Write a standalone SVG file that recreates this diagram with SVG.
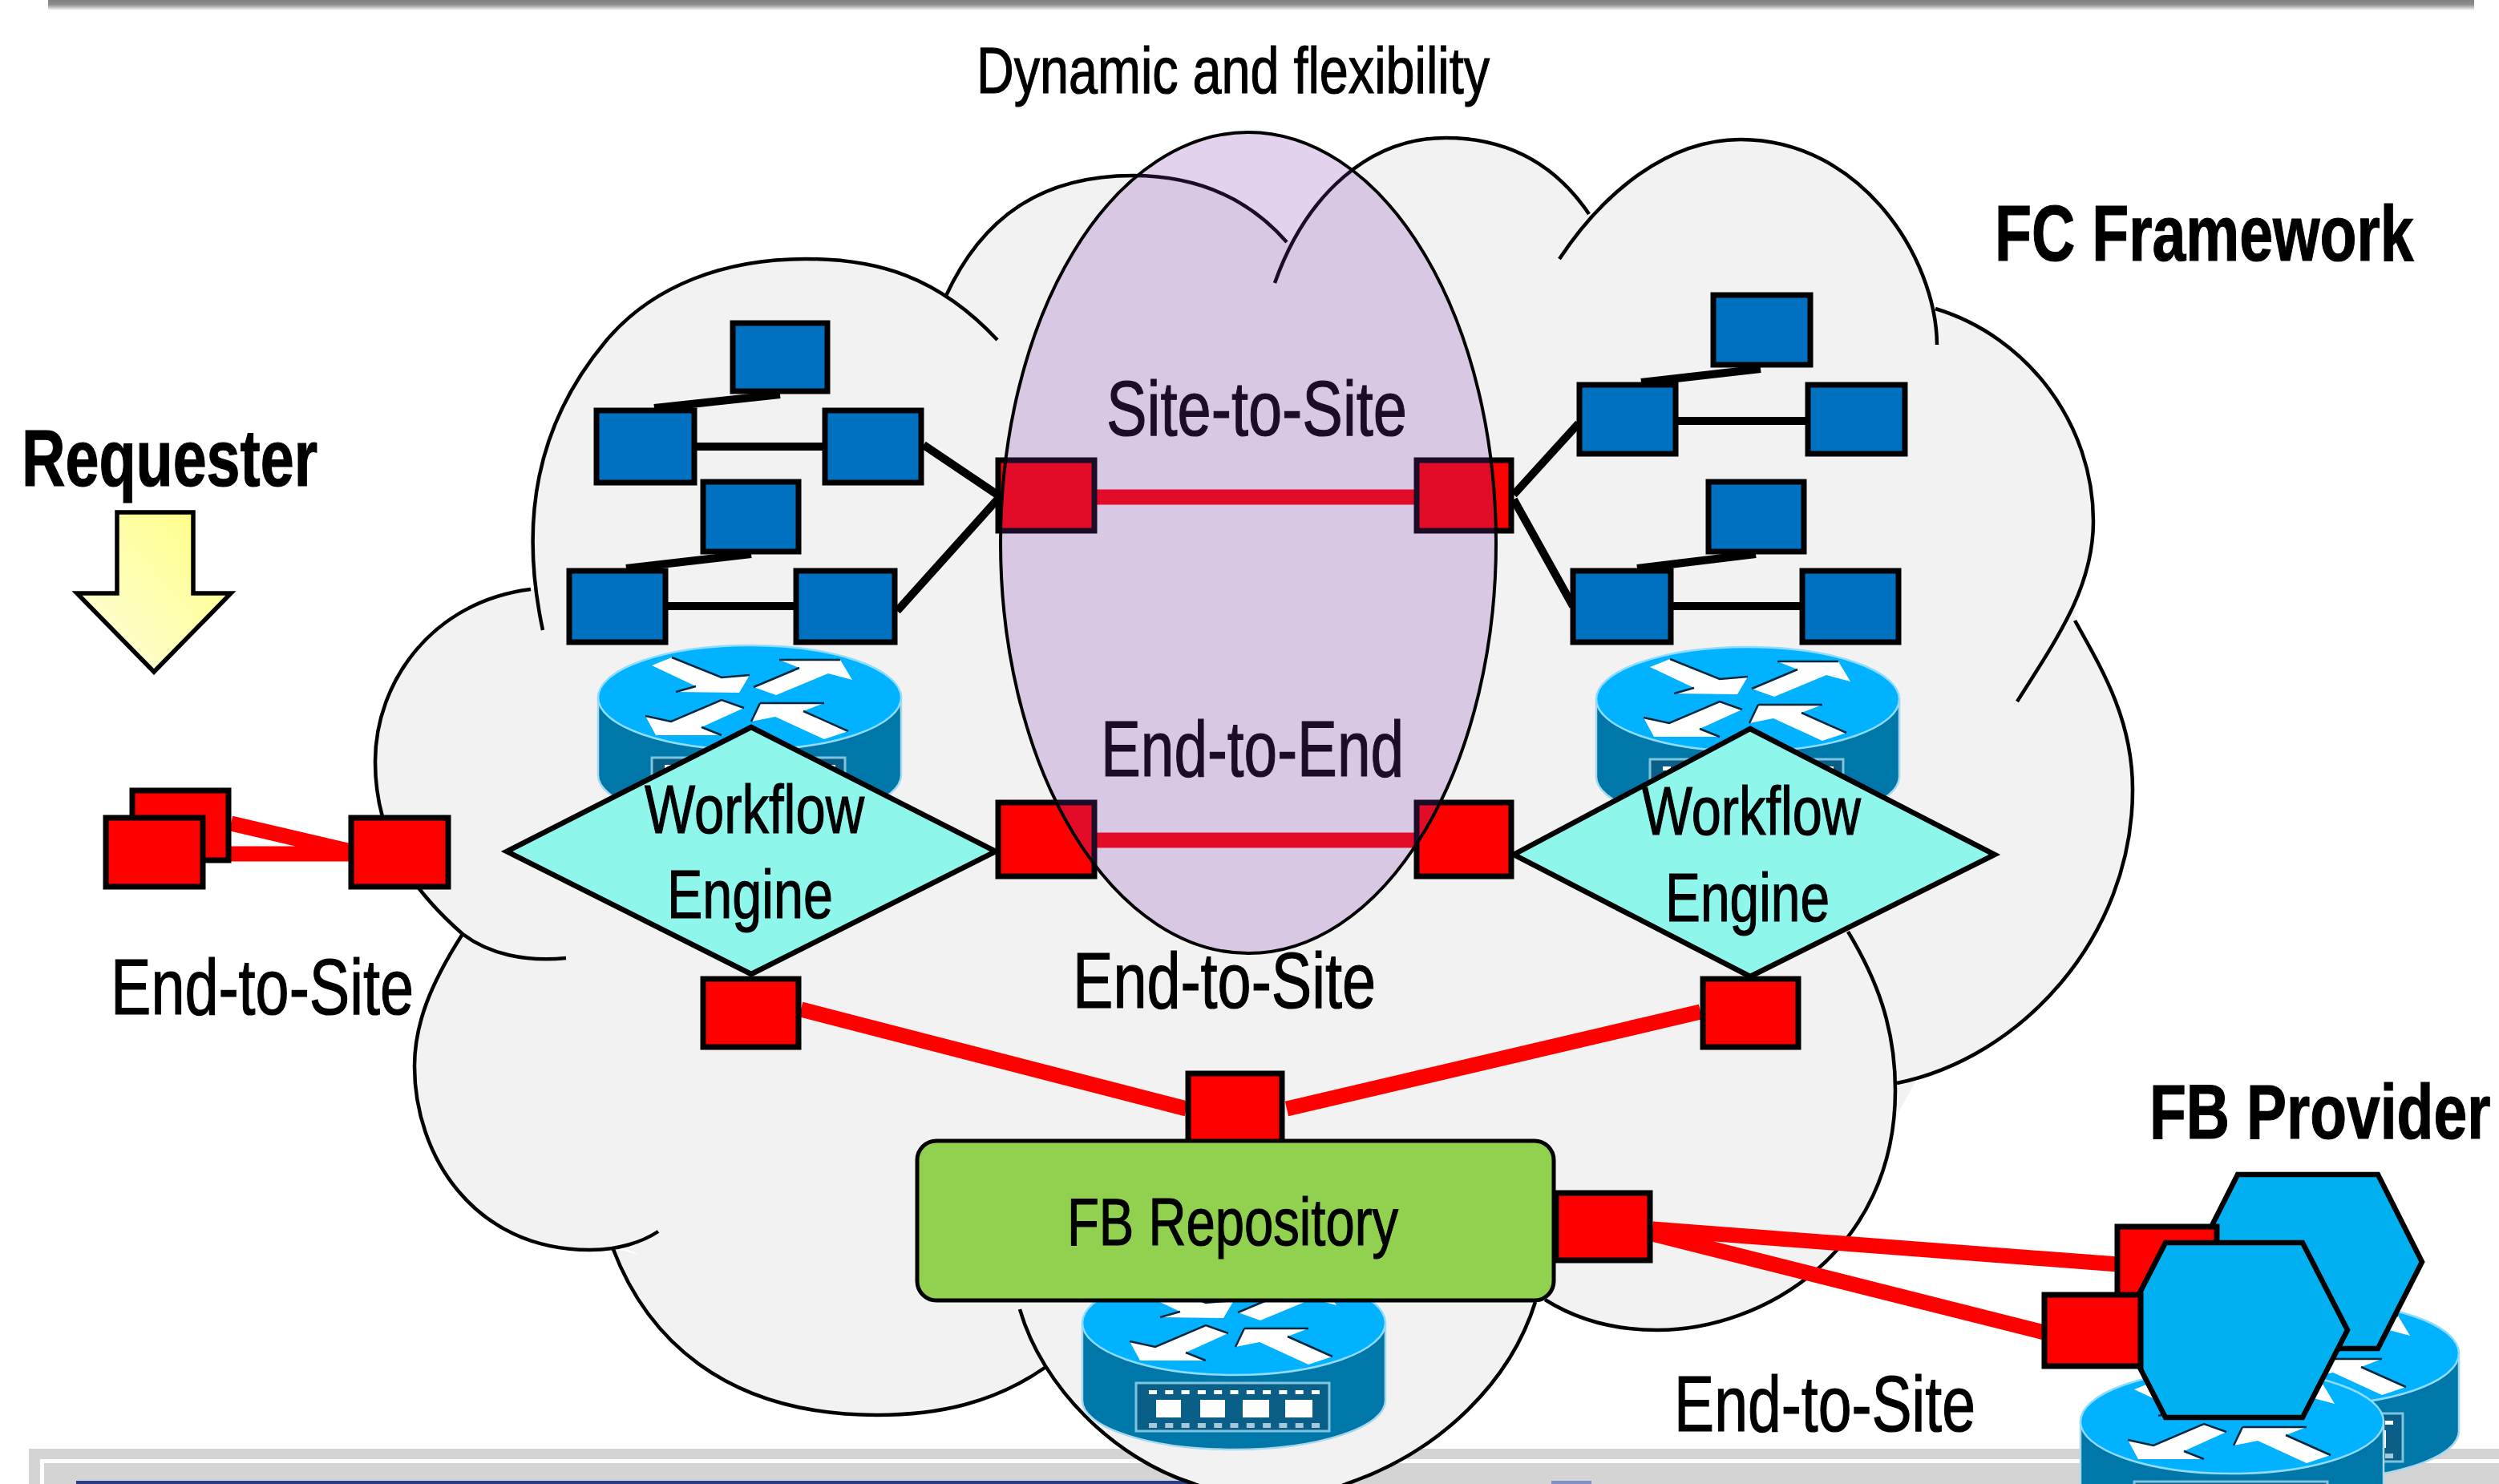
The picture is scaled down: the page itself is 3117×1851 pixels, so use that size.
<svg xmlns="http://www.w3.org/2000/svg" width="3117" height="1851" viewBox="0 0 3117 1851">
<style>
.t{font-family:"Liberation Sans",Arial,sans-serif;fill:#000;stroke:#000;stroke-width:1.2}
.b{font-weight:700}
.cfill{fill:#f2f2f2;stroke:none}
.cline{fill:none;stroke:#000;stroke-width:4.5}
.blue{fill:#0070c0;stroke:#000;stroke-width:7}
.red{fill:#f00;stroke:#000;stroke-width:7}
.bl{stroke:#000;stroke-width:10;fill:none}
.rl{stroke:#f00;stroke-width:19;fill:none}
.dia{fill:#8ff6ec;stroke:#000;stroke-width:6.5;stroke-linejoin:miter}
.hex{fill:#00b0f0;stroke:#000;stroke-width:6.5}
.aw{fill:#fff}
.ad{fill:none;stroke:#01283c;stroke-width:2.5}
</style>
<defs>
<linearGradient id="arrowGrad" x1="0" y1="1" x2="1" y2="0">
<stop offset="0" stop-color="#fdfde0"/><stop offset="1" stop-color="#ffff80"/>
</linearGradient>
<linearGradient id="topShadow" x1="0" y1="0" x2="0" y2="1">
<stop offset="0" stop-color="#808080"/><stop offset=".45" stop-color="#8f8f8f"/><stop offset="1" stop-color="#fff"/>
</linearGradient>
<path id="cloudArcs" d="M677 786C648 650 668 530 756 425C815 355 905 323 1005 323C1095 323 1170 345 1244 424
M706 1195C655 1200 610 1190 577 1165C520 1115 468 1050 468 950C468 850 540 750 662 735
M577 1165C535 1230 517 1280 517 1330C517 1440 590 1559 736 1559C770 1559 800 1550 821 1536
M764 1556C805 1665 900 1765 1094 1765C1170 1765 1240 1750 1303 1706
M1272 1633C1300 1730 1390 1820 1490 1851C1550 1875 1620 1875 1679 1851C1800 1810 1885 1720 1915 1624
M1927 1621C1965 1645 2010 1659 2067 1659C2200 1659 2364 1560 2364 1360C2364 1280 2340 1220 2305 1162
M2366 1351C2520 1320 2660 1170 2660 985C2660 900 2625 840 2588 774
M2516 875C2570 790 2611 730 2611 650C2611 530 2530 420 2414 385
M2416 430C2415 320 2320 174 2171 174C2080 174 2000 240 1945 323
M1982 267C1940 205 1880 172 1803 172C1710 172 1630 240 1590 353
M1179 371C1225 270 1300 219 1413 219C1490 219 1555 245 1605 302"/>
<g id="router">
<path d="M-189 0V97A189 61 0 0 0 189 97V0Z" fill="#0077a9" stroke="#a9d8ec" stroke-width="2.5"/>
<ellipse cx="0" cy="0" rx="189" ry="65" fill="#00b2ff" stroke="#8fdcff" stroke-width="2.5"/>
<path class="aw" d="M-122-40L-97-50L-35-25L0-28L-13-6L-92-7L-67-14Z"/>
<path class="aw" d="M37-47L113-47L128-22L98-30L33-3L5-13L62-37Z"/>
<path class="aw" d="M-130 23L-98 30L-35 3L-7 13L-60 37L-35 47L-117 47Z"/>
<path class="aw" d="M13 7L93 7L67 17L123 42L93 52L32 24L2 30Z"/>
<path class="ad" d="M-97-50L-35-25L0-28M-92-7L-67-14M37-47L113-47M5-13L62-37M-130 23L-98 30L-35 3L-7 13M-60 37L-35 47M13 7L93 7M13 7L2 30M67 17L123 42"/>
<rect x="-122" y="75" width="241" height="60" fill="#0a5f88" stroke="#7fc4de" stroke-width="3"/>
<path fill="#fff" d="M-97 96h31v22h-31zM-42 96h31v22h-31zM11 96h33v22h-33zM64 96h34v22h-34z"/>
<path fill="none" stroke="#fff" stroke-width="5" stroke-dasharray="10 10.3" d="M-106 86.500H116"/>
<path fill="none" stroke="#a6c8d8" stroke-width="6" stroke-dasharray="10 10.3" d="M-106 128H116"/>
</g>
</defs>

<g id="frame">
<rect x="60" y="0" width="3026" height="13" fill="url(#topShadow)"/>
<rect x="36" y="1807" width="3081" height="44" fill="#d4d4d4"/>
<rect x="52" y="1820" width="3065" height="5" fill="#fff"/>
<rect x="50" y="1820" width="5" height="31" fill="#fff"/>
<rect x="95" y="1847" width="1420" height="4" fill="#2b3c8c"/>
<rect x="1935" y="1847" width="50" height="4" fill="#7f8fc8"/>
</g>

<g id="cloud">
<path class="cfill" d="M662 735L1179 371L1413 300L1605 302L1803 260L1982 267L2171 250L2414 385L2600 650L2588 774L2400 1330L2305 1500L2067 1600L1915 1624L1679 1800L1490 1800L1303 1706L1094 1700L764 1550L600 1400L577 1165L500 1000Z"/>
<use href="#cloudArcs" class="cfill"/>
<use href="#cloudArcs" class="cline"/>
</g>

<g id="router-left"><use href="#router" x="935" y="870"/></g>
<g id="router-right"><use href="#router" x="2180" y="872"/></g>
<g id="router-bottom"><use href="#router" x="1539" y="1650"/></g>
<g id="router-provider-back"><use href="#router" x="2878" y="1688"/></g>

<g id="connectors">
<path class="bl" d="M973 492L816 509M869 557H1026M937 691L781 709M833 756H990M1152 555L1244 617M1119 762L1244 623"/>
<path class="bl" d="M2196 460L2047 477M2093 525H2252M2190 691L2042 709M2087 756H2245M1888 617L1969 528M1888 623L1962 756"/>
<path class="rl" d="M1368 620H1764M1368 1048H1764M999 1259L1480 1383M2121 1262L1605 1383M288 1027L438 1062M256 1065H438M2061 1533L2642 1577M2061 1539L2550 1662" />
</g>

<g id="requester-arrow"><path d="M146 639H241V740H288L192 838L96 740H146Z" fill="url(#arrowGrad)" stroke="#000" stroke-width="5.500"/></g>
<g id="end-left-back"><rect class="red" x="165" y="986" width="120" height="87"/></g>
<g id="end-left-front"><rect class="red" x="132" y="1020" width="121" height="86"/></g>
<g id="end-left-gateway"><rect class="red" x="438" y="1020" width="121" height="86"/></g>

<g id="vm-l1"><rect class="blue" x="914" y="403" width="118" height="85"/></g>
<g id="vm-l2"><rect class="blue" x="744" y="512" width="122" height="90"/></g>
<g id="vm-l3"><rect class="blue" x="1029" y="512" width="120" height="90"/></g>
<g id="vm-l4"><rect class="blue" x="877" y="601" width="119" height="87"/></g>
<g id="vm-l5"><rect class="blue" x="710" y="712" width="120" height="89"/></g>
<g id="vm-l6"><rect class="blue" x="993" y="712" width="123" height="89"/></g>
<g id="vm-r1"><rect class="blue" x="2137" y="368" width="121" height="87"/></g>
<g id="vm-r2"><rect class="blue" x="1970" y="480" width="120" height="86"/></g>
<g id="vm-r3"><rect class="blue" x="2255" y="480" width="121" height="86"/></g>
<g id="vm-r4"><rect class="blue" x="2131" y="601" width="119" height="87"/></g>
<g id="vm-r5"><rect class="blue" x="1962" y="712" width="122" height="89"/></g>
<g id="vm-r6"><rect class="blue" x="2248" y="712" width="120" height="89"/></g>

<g id="workflow-left"><path class="dia" d="M937 907L1242 1062L937 1215L632 1062Z"/>
<text class="t" x="804" y="1039" font-size="86" textLength="274" lengthAdjust="spacingAndGlyphs">Workflow</text>
<text class="t" x="832" y="1145" font-size="86" textLength="207" lengthAdjust="spacingAndGlyphs">Engine</text></g>
<g id="workflow-right"><path class="dia" d="M2183 909L2488 1066L2183 1218L1888 1066Z"/>
<text class="t" x="2048" y="1041" font-size="86" textLength="273" lengthAdjust="spacingAndGlyphs">Workflow</text>
<text class="t" x="2077" y="1149" font-size="86" textLength="205" lengthAdjust="spacingAndGlyphs">Engine</text></g>

<g id="s2s-left"><rect class="red" x="1245" y="574" width="120" height="88"/></g>
<g id="s2s-right"><rect class="red" x="1767" y="574" width="118" height="88"/></g>
<g id="e2e-left"><rect class="red" x="1245" y="1001" width="120" height="92"/></g>
<g id="e2e-right"><rect class="red" x="1767" y="1001" width="118" height="92"/></g>
<g id="wf-port-left"><rect class="red" x="877" y="1221" width="119" height="85"/></g>
<g id="wf-port-right"><rect class="red" x="2124" y="1221" width="119" height="85"/></g>
<g id="repo-port-top"><rect class="red" x="1482" y="1339" width="117" height="86"/></g>

<g id="fb-repository"><rect x="1144" y="1423" width="794" height="199" rx="24" ry="24" fill="#92d050" stroke="#000" stroke-width="5"/>
<text class="t" x="1331" y="1553" font-size="84" textLength="413" lengthAdjust="spacingAndGlyphs">FB Repository</text></g>
<g id="repo-port-right"><rect class="red" x="1941" y="1488" width="117" height="84"/></g>

<g id="provider-back"><path class="hex" d="M2791 1465H2966L3021 1574L2966 1682H2791L2736 1574Z"/></g>
<g id="provider-back-port"><rect class="red" x="2641" y="1530" width="124" height="90"/></g>
<g id="router-provider-front"><use href="#router" x="2784" y="1773"/></g>
<g id="provider-front"><path class="hex" d="M2701 1550H2872L2928 1659L2872 1768H2701L2645 1659Z"/></g>
<g id="provider-front-port"><rect class="red" x="2550" y="1615" width="120" height="89"/></g>

<g id="labels">
<text class="t" x="1218" y="116" font-size="82" textLength="640" lengthAdjust="spacingAndGlyphs">Dynamic and flexibility</text>
<text class="t b" font-size="98" transform="translate(2488 325) scale(.768 1)">FC Framework</text>
<text class="t b" x="27" y="606" font-size="100" textLength="369" lengthAdjust="spacingAndGlyphs">Requester</text>
<text class="t" x="1380" y="543" font-size="96" textLength="375" lengthAdjust="spacingAndGlyphs">Site-to-Site</text>
<text class="t" x="1373" y="968" font-size="98" textLength="378" lengthAdjust="spacingAndGlyphs">End-to-End</text>
<text class="t" x="1338" y="1257" font-size="98" textLength="378" lengthAdjust="spacingAndGlyphs">End-to-Site</text>
<text class="t" x="138" y="1265" font-size="98" textLength="378" lengthAdjust="spacingAndGlyphs">End-to-Site</text>
<text class="t" x="2088" y="1785" font-size="98" textLength="376" lengthAdjust="spacingAndGlyphs">End-to-Site</text>
<text class="t b" font-size="96" transform="translate(2681 1420) scale(.782 1)">FB Provider</text>
</g>

<g id="dynamic-ellipse"><ellipse cx="1557" cy="677" rx="309" ry="512" fill="#7d36b4" fill-opacity=".223" stroke="#000" stroke-width="4"/></g>
</svg>
